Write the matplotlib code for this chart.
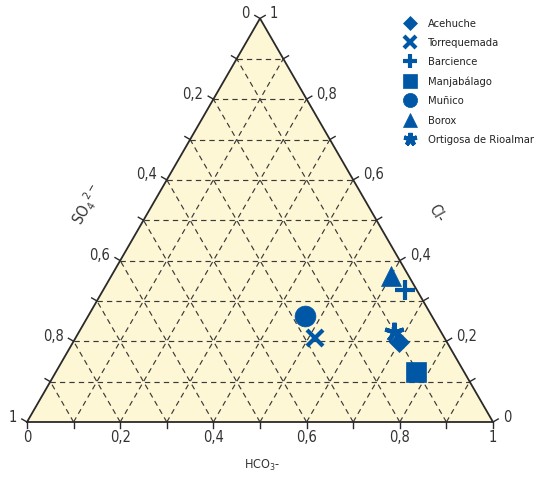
import numpy as np
import matplotlib
matplotlib.use("Agg")
import matplotlib.pyplot as plt
from matplotlib import font_manager as fm

# pick a condensed/narrow face if one is installed
narrow = None
for f in fm.fontManager.ttflist:
    if f.style == 'normal' and f.weight in (400, 'normal', 'regular') and \
            ('Narrow' in f.name or 'Condensed' in f.name or f.stretch in ('condensed', 'semi-condensed')):
        narrow = f
        break
if narrow is not None:
    plt.rcParams['font.family'] = [narrow.name, 'DejaVu Sans']
    plt.rcParams['font.stretch'] = narrow.stretch
    SC = 1.0
else:
    plt.rcParams['font.family'] = ['DejaVu Sans']
    SC = 0.85
plt.rcParams['mathtext.fontset'] = 'dejavusans'

# ---- data (fractions: HCO3-, SO4 2-, Cl-) ----
sites = ['Acehuche', 'Torrequemada', 'Barcience', 'Manjabálago', 'Muñico',
         'Borox', 'Ortigosa de Rioalmar']
hco3 = [0.700, 0.514, 0.648, 0.772, 0.465, 0.600, 0.675]
so4 = [0.102, 0.278, 0.025, 0.103, 0.272, 0.038, 0.102]
cl = [0.198, 0.208, 0.327, 0.125, 0.263, 0.362, 0.223]
markers = ['D', 'x', '+', 's', 'o', '^', (5, 2, 0)]
tick_vals = [0, 0.2, 0.4, 0.6, 0.8, 1]
tick_txt = ['0', '0,2', '0,4', '0,6', '0,8', '1']

BLUE = '#0057a6'
FILL = '#fef7d5'
EDGE = '#2a2a2a'
GRID = '#3a3a3a'
H = np.sqrt(3) / 2


def tern(h, c):
    h = np.asarray(h, float)
    c = np.asarray(c, float)
    return h + c / 2, c * H


W, Hpx = 544, 479
fig = plt.figure(figsize=(W / 100, Hpx / 100), dpi=100)
ax = fig.add_axes([0, 0, 1, 1])
S = 466.0
x0px, y0px = 27.0, 57.0
ax.set_xlim(-x0px / S, (W - x0px) / S)
ax.set_ylim(-y0px / S, (Hpx - y0px) / S)
ax.axis('off')

px = 1 / S  # one pixel in data units

# triangle fill and border
tri_x = [0, 1, 0.5, 0]
tri_y = [0, 0, H, 0]
ax.fill(tri_x, tri_y, color=FILL, zorder=0, lw=0)
ax.plot(tri_x, tri_y, color=EDGE, lw=1.3, zorder=3, solid_joinstyle='miter')

# dashed grid lines
DASH = (0, (4.5, 3.5))
for i in range(1, 10):
    v = i / 10
    xa, ya = tern([0, 1 - v], [v, v])
    ax.plot(xa, ya, color=GRID, lw=0.85, ls=DASH, zorder=1)
    xa, ya = tern([v, v], [0, 1 - v])
    ax.plot(xa, ya, color=GRID, lw=0.85, ls=DASH, zorder=1)
    xa, ya = tern([1 - v, 0], [0, 1 - v])
    ax.plot(xa, ya, color=GRID, lw=0.85, ls=DASH, zorder=1)

# ticks perpendicular to each edge
TL = 6 * px
n_bot = (0, -1)
n_right = (np.cos(np.radians(30)), np.sin(np.radians(30)))
n_left = (-np.cos(np.radians(30)), np.sin(np.radians(30)))
for i in range(11):
    v = i / 10
    bx, by = tern(v, 0)
    ax.plot([bx, bx + n_bot[0] * TL], [by, by + n_bot[1] * TL], color=EDGE, lw=1.0, zorder=3)
    rx, ry = tern(1 - v, v)
    ax.plot([rx, rx + n_right[0] * TL], [ry, ry + n_right[1] * TL], color=EDGE, lw=1.0, zorder=3)
    lx, ly = tern(0, 1 - v)
    ax.plot([lx, lx + n_left[0] * TL], [ly, ly + n_left[1] * TL], color=EDGE, lw=1.0, zorder=3)

# tick labels
TFS = 10.5 * SC
TC = '#333333'
for v, t in zip(tick_vals, tick_txt):
    bx, by = tern(v, 0)
    ax.text(bx, by - 16 * px, t, ha='center', va='center', fontsize=TFS, color=TC)
    rx, ry = tern(1 - v, v)
    ax.text(rx + 10 * px, ry + 5 * px, t, ha='left', va='center', fontsize=TFS, color=TC)
    lx, ly = tern(0, 1 - v)
    ax.text(lx - 10 * px, ly + 5 * px, t, ha='right', va='center', fontsize=TFS, color=TC)

# axis titles
ax.text((262 - x0px) * px, (Hpx - 465 - y0px) * px, 'HCO$_{3}$-', ha='center', va='center',
        fontsize=9 * SC, color=TC)
ax.text((88 - x0px) * px, (Hpx - 205 - y0px) * px, 'SO$_{4}$$^{2-}$', ha='center', va='center',
        fontsize=11 * SC, color=TC, rotation=60)
ax.text((437 - x0px) * px, (Hpx - 213 - y0px) * px, 'Cl-', ha='center', va='center',
        fontsize=10.5 * SC, color=TC, rotation=-60)

# data points
sizes = {'D': 10, 'x': 12, '+': 15, 's': 14, 'o': 15, '^': 14}
handles = []
for name, h, c, m in zip(sites, hco3, cl, markers):
    xx, yy = tern(h, c)
    ms = sizes.get(m, 14) if isinstance(m, str) else 14
    line_marker = m in ('x', '+') or not isinstance(m, str)
    hd, = ax.plot([xx], [yy], ls='none', marker=m, ms=ms, color=BLUE,
                  mec=BLUE, mew=3 if line_marker else 0.5, zorder=5, label=name)
    handles.append(hd)

LFS = 8.0 * SC
leg = ax.legend(handles=handles, loc='upper left', frameon=False,
                bbox_to_anchor=(391 / W, 1 - 8 / Hpx), bbox_transform=fig.transFigure,
                fontsize=LFS, markerscale=0.68, handlelength=1.575, handletextpad=0.80,
                labelspacing=0.84, borderpad=0.45)
for t in leg.get_texts():
    t.set_color('#222222')

fig.savefig('out.png', dpi=100)
